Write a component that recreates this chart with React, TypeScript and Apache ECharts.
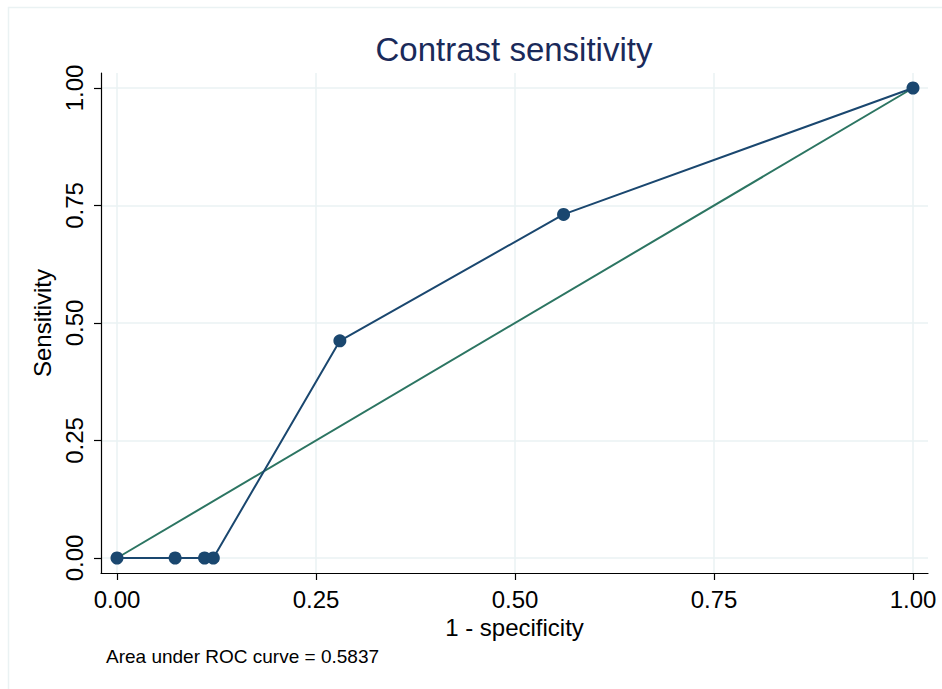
import React, { useEffect, useRef } from "react";
import * as echarts from "echarts";

const rocX = [0, 0.073, 0.110, 0.121, 0.280, 0.561, 1];
const rocY = [0, 0, 0, 0, 0.462, 0.731, 1];
const refX = [0, 1];
const refY = [0, 1];
const tickValues = [0, 0.25, 0.5, 0.75, 1];
const tickLabels = ["0.00", "0.25", "0.50", "0.75", "1.00"];
const titleText = "Contrast sensitivity";
const xName = "1 - specificity";
const yName = "Sensitivity";
const noteText = "Area under ROC curve = 0.5837";

const FONT = "'Liberation Sans', Arial, Helvetica, sans-serif";

export default function App() {
  const ref = useRef<HTMLDivElement>(null);
  useEffect(() => {
    if (!ref.current) return;
    const chart = echarts.init(ref.current, undefined, { renderer: "svg" });
    const fmt = (v: number) => {
      const i = tickValues.findIndex((t) => Math.abs(t - v) < 1e-9);
      return i >= 0 ? tickLabels[i] : "";
    };
    chart.setOption({
      animation: false,
      backgroundColor: "#ffffff",
      textStyle: { fontFamily: FONT },
      title: {
        text: titleText,
        left: 509,
        top: 28,
        textAlign: "center",
        textStyle: { fontFamily: FONT, fontSize: 33, fontWeight: "normal", color: "#1a2a5a" },
      },
      graphic: [
        {
          type: "rect",
          shape: { x: 8.5, y: 7.5, width: 940, height: 690 },
          style: { fill: "none", stroke: "#eaf2f3", lineWidth: 1.5 },
          silent: true,
          z: -10,
        },
        {
          type: "text",
          left: 106,
          top: 647,
          style: { text: noteText, fontFamily: FONT, fontSize: 19, fill: "#000000" },
        },
      ],
      grid: { left: 101, right: 14, top: 73, bottom: 116, containLabel: false },
      xAxis: {
        type: "value",
        min: -16 / 796,
        max: 1 + 15 / 796,
        name: xName,
        nameLocation: "middle",
        nameGap: 39,
        nameTextStyle: { fontFamily: FONT, fontSize: 24, color: "#000" },
        axisLine: { show: true, onZero: false, lineStyle: { color: "#000", width: 1.2 } },
        axisTick: { show: true, length: 7, customValues: tickValues, lineStyle: { color: "#000", width: 1.2 } },
        axisLabel: {
          customValues: tickValues,
          formatter: fmt,
          fontFamily: FONT,
          fontSize: 24,
          color: "#000",
          margin: 14,
        },
        splitLine: { show: true, lineStyle: { color: "#eaf2f3", width: 1.5 } },
      },
      yAxis: {
        type: "value",
        min: -15 / 470,
        max: 1 + 15 / 470,
        name: yName,
        nameLocation: "middle",
        nameGap: 35,
        nameRotate: 90,
        nameTextStyle: { fontFamily: FONT, fontSize: 24, color: "#000" },
        axisLine: { show: true, onZero: false, lineStyle: { color: "#000", width: 1.2 } },
        axisTick: { show: true, length: 7, customValues: tickValues, lineStyle: { color: "#000", width: 1.2 } },
        axisLabel: {
          customValues: tickValues,
          formatter: fmt,
          rotate: 90,
          fontFamily: FONT,
          fontSize: 24,
          color: "#000",
          margin: 15,
          verticalAlign: "bottom",
          align: "center",
        },
        splitLine: { show: true, lineStyle: { color: "#eaf2f3", width: 1.5 } },
      },
      series: [
        {
          type: "line",
          data: refX.map((x, i) => [x, refY[i]]),
          showSymbol: false,
          symbol: "none",
          lineStyle: { color: "#2c7562", width: 2 },
          z: 2,
        },
        {
          type: "line",
          data: rocX.map((x, i) => [x, rocY[i]]),
          symbol: "circle",
          symbolSize: 13,
          itemStyle: { color: "#1a476f" },
          lineStyle: { color: "#1a476f", width: 2 },
          z: 3,
        },
      ],
    });
    return () => chart.dispose();
  }, []);
  return (
    <div
      ref={ref}
      style={{ position: "fixed", left: 0, top: 0, width: 942, height: 689 }}
    />
  );
}
